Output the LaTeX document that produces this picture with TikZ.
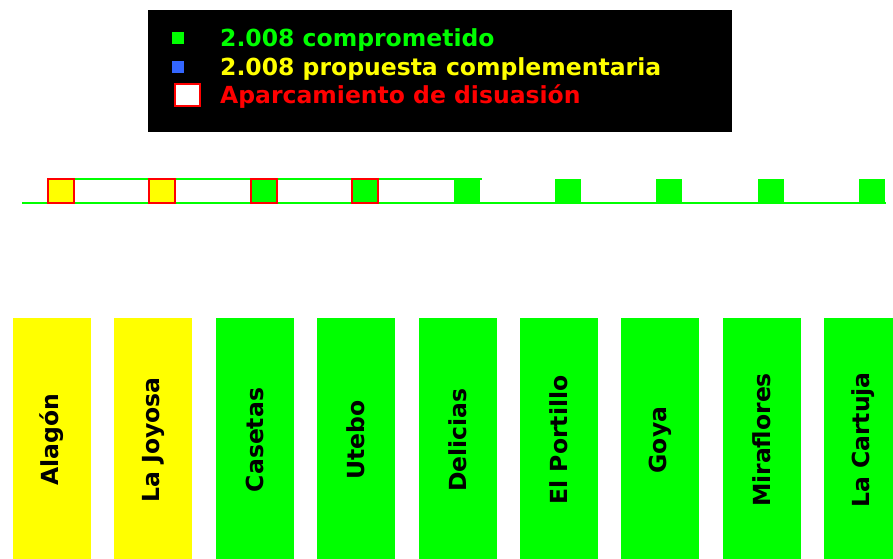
\documentclass[tikz,border=0pt]{standalone}
\usepackage{fontspec}
\setmainfont{DejaVu Sans}
\usetikzlibrary{positioning}
\definecolor{lgreen}{RGB}{0,255,0}
\definecolor{lyellow}{RGB}{255,255,0}
\definecolor{lred}{RGB}{255,0,0}
\definecolor{lblue}{RGB}{51,102,255}

\begin{document}
\begin{tikzpicture}[
  x=1pt,y=1pt,
  font=\bfseries\fontsize{23.5}{28}\selectfont,
  stop/.style={minimum width=26pt,minimum height=24pt,inner sep=0pt,outer sep=0pt},
  park/.style={stop,draw=lred,line width=2pt},
  plain/.style={stop,fill=lgreen},
  bar/.style={minimum width=78pt,minimum height=244pt,inner sep=0pt,outer sep=0pt},
  rail/.style={lgreen,line width=2pt},
  legbox/.style={fill=black,minimum width=584pt,minimum height=122pt,inner sep=0pt},
  legtxt/.style={anchor=base west,inner sep=0pt},
]
\useasboundingbox (0,0) rectangle (893,-558);
\clip (0,0) rectangle (893,-558);

% legend
\node[legbox,anchor=north west] (leg) at (148,-10) {};
\node[fill=lgreen,minimum size=12pt,inner sep=0pt] (mk1) at (178,-38) {};
\node[fill=lblue,minimum size=12pt,inner sep=0pt] (mk2) at (178,-67) {};
\node[fill=white,draw=lred,line width=2pt,minimum width=25pt,minimum height=22pt,inner sep=0pt] (mk3) at (187.5,-95) {};
\node[legtxt,text=lgreen] (tx1) at (220,-46) {2.008 comprometido};
\node[legtxt,text=lyellow] (tx2) at (220,-75) {2.008 propuesta complementaria};
\node[legtxt,text=lred] (tx3) at (220,-103) {Aparcamiento de disuasión};

% line
\coordinate (railW) at (22,-203);
\coordinate (railE) at (886,-203);
\coordinate (topW) at (48,-179);
\coordinate (topE) at (482,-179);
\draw[rail] (railW) -- (railE);
\draw[rail] (topW) -- (topE);

\node[park,fill=lyellow,anchor=south west] (st1) at (48,-203) {};
\node[park,fill=lyellow,right=75.4pt of st1] (st2) {};
\node[park,fill=lgreen,right=75.4pt of st2] (st3) {};
\node[park,fill=lgreen,right=75.4pt of st3] (st4) {};
\node[plain,right=75.4pt of st4] (st5) {};
\node[plain,right=75.4pt of st5] (st6) {};
\node[plain,right=75.4pt of st6] (st7) {};
\node[plain,right=75.4pt of st7] (st8) {};
\node[plain,right=75.4pt of st8] (st9) {};

% stations
\node[bar,fill=lyellow,anchor=north west] (alagon) at (13,-318) {\rotatebox{90}{Alagón}};
\node[bar,fill=lyellow,right=23.4pt of alagon] (joyosa) {\rotatebox{90}{La Joyosa}};
\node[bar,fill=lgreen,right=23.4pt of joyosa] (casetas) {\rotatebox{90}{Casetas}};
\node[bar,fill=lgreen,right=23.4pt of casetas] (utebo) {\rotatebox{90}{Utebo}};
\node[bar,fill=lgreen,right=23.4pt of utebo] (delicias) {\rotatebox{90}{Delicias}};
\node[bar,fill=lgreen,right=23.4pt of delicias] (portillo) {\rotatebox{90}{El Portillo}};
\node[bar,fill=lgreen,right=23.4pt of portillo] (goya) {\rotatebox{90}{Goya}};
\node[bar,fill=lgreen,right=23.4pt of goya] (miraflores) {\rotatebox{90}{Miraflores}};
\node[bar,fill=lgreen,right=23.4pt of miraflores] (cartuja) {\rotatebox{90}{La Cartuja}};
\end{tikzpicture}
\end{document}
